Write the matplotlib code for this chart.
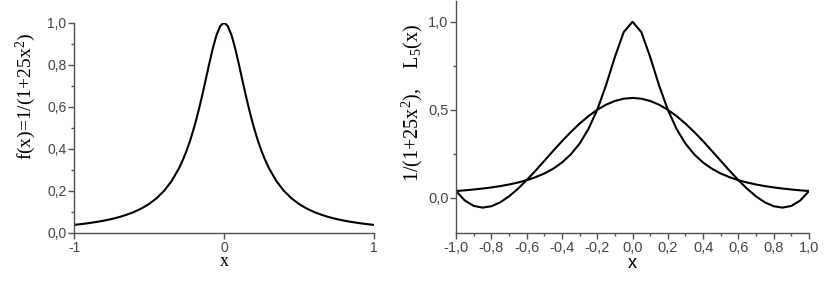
import matplotlib

matplotlib.use("Agg")
import matplotlib.pyplot as plt
from matplotlib.ticker import FixedLocator, FuncFormatter, MultipleLocator

# left panel: f(x) = 1/(1+25x^2)
left_x = [-1.0, -0.95, -0.9, -0.85, -0.8, -0.75, -0.7, -0.65, -0.6, -0.55, -0.5,
          -0.45, -0.4, -0.35, -0.3, -0.275, -0.25, -0.225, -0.2, -0.175, -0.15,
          -0.125, -0.1, -0.075, -0.05, -0.025, 0.0, 0.025, 0.05, 0.075, 0.1, 0.125,
          0.15, 0.175, 0.2, 0.225, 0.25, 0.275, 0.3, 0.35, 0.4, 0.45, 0.5, 0.55,
          0.6, 0.65, 0.7, 0.75, 0.8, 0.85, 0.9, 0.95, 1.0]
left_f = [0.0385, 0.0424, 0.0471, 0.0525, 0.0588, 0.0664, 0.0755, 0.0865, 0.100,
          0.1168, 0.1379, 0.1649, 0.200, 0.2462, 0.3077, 0.3459, 0.3902, 0.4414,
          0.500, 0.5664, 0.640, 0.7191, 0.800, 0.8767, 0.9412, 0.9846, 1.000,
          0.9846, 0.9412, 0.8767, 0.800, 0.7191, 0.640, 0.5664, 0.500, 0.4414,
          0.3902, 0.3459, 0.3077, 0.2462, 0.200, 0.1649, 0.1379, 0.1168, 0.100,
          0.0865, 0.0755, 0.0664, 0.0588, 0.0525, 0.0471, 0.0424, 0.0385]

# right panel: function and L5(x), sampled every 0.05
right_x = [-1.0, -0.95, -0.9, -0.85, -0.8, -0.75, -0.7, -0.65, -0.6, -0.55, -0.5,
           -0.45, -0.4, -0.35, -0.3, -0.25, -0.2, -0.15, -0.1, -0.05, 0.0, 0.05,
           0.1, 0.15, 0.2, 0.25, 0.3, 0.35, 0.4, 0.45, 0.5, 0.55, 0.6, 0.65, 0.7,
           0.75, 0.8, 0.85, 0.9, 0.95, 1.0]
right_f = [0.0385, 0.0424, 0.0471, 0.0525, 0.0588, 0.0664, 0.0755, 0.0865, 0.100,
           0.1168, 0.1379, 0.1649, 0.200, 0.2462, 0.3077, 0.3902, 0.500, 0.640,
           0.800, 0.9412, 1.000, 0.9412, 0.800, 0.640, 0.500, 0.3902, 0.3077,
           0.2462, 0.200, 0.1649, 0.1379, 0.1168, 0.100, 0.0865, 0.0755, 0.0664,
           0.0588, 0.0525, 0.0471, 0.0424, 0.0385]
right_l5 = [0.0385, -0.0157, -0.0460, -0.0558, -0.0481, -0.0260, 0.0078, 0.0506,
            0.100, 0.1537, 0.2097, 0.2661, 0.3212, 0.3733, 0.4213, 0.4638, 0.500,
            0.5290, 0.5501, 0.5630, 0.5673, 0.5630, 0.5501, 0.5290, 0.500, 0.4638,
            0.4213, 0.3733, 0.3212, 0.2661, 0.2097, 0.1537, 0.100, 0.0506, 0.0078,
            -0.0260, -0.0481, -0.0558, -0.0460, -0.0157, 0.0385]

left_xticks = [-1, 0, 1]
left_xticklabels = ["-1", "0", "1"]

plt.rcParams["mathtext.fontset"] = "custom"
plt.rcParams["mathtext.rm"] = "Liberation Serif"
plt.rcParams["mathtext.it"] = "Liberation Serif"

TICK_COLOR = "#454545"
SPINE_COLOR = "#505050"


def comma(v, _pos):
    if abs(v) < 1e-9:
        v = 0.0
    return f"{v:.1f}".replace(".", ",")


def style_axes(ax, size):
    for side in ("top", "right"):
        ax.spines[side].set_visible(False)
    for side in ("left", "bottom"):
        ax.spines[side].set_color(SPINE_COLOR)
        ax.spines[side].set_linewidth(1.0)
    ax.tick_params(which="major", direction="out", length=4, width=1,
                   color=SPINE_COLOR, labelsize=size, labelcolor=TICK_COLOR, pad=1.5)
    ax.tick_params(which="minor", direction="out", length=2.5, width=1,
                   color=SPINE_COLOR)
    for lbl in ax.get_xticklabels() + ax.get_yticklabels():
        lbl.set_fontfamily("Liberation Sans")


fig = plt.figure(figsize=(8.29, 2.83), dpi=100)

# left panel
ax1 = fig.add_axes([0.0893, 0.1767, 0.3618, 0.7431])
ax1.plot(left_x, left_f, color="black", lw=1.5)
ax1.set_xlim(-1, 1)
ax1.set_ylim(0, 1.0)
ax1.xaxis.set_major_locator(FixedLocator(left_xticks))
ax1.set_xticklabels(left_xticklabels)
ax1.yaxis.set_major_locator(MultipleLocator(0.2))
ax1.yaxis.set_minor_locator(MultipleLocator(0.1))
ax1.yaxis.set_major_formatter(FuncFormatter(comma))
style_axes(ax1, 10)
ax1.set_ylabel("f(x)=1/(1+25x$^2$)", family="Liberation Serif", fontsize=14, va="center")
ax1.yaxis.set_label_coords(-0.16, 0.65)
ax1.set_xlabel("x", family="Liberation Serif", fontsize=13, va="top")
ax1.xaxis.set_label_coords(0.5, -0.095)

# right panel
ax2 = fig.add_axes([0.5501, 0.1767, 0.4258, 0.821])
ax2.plot(right_x, right_f, color="black", lw=1.5)
ax2.plot(right_x, right_l5, color="black", lw=1.5)
ax2.set_xlim(-1, 1)
ax2.set_ylim(-0.2, 1.12)
ax2.xaxis.set_major_locator(MultipleLocator(0.2))
ax2.xaxis.set_minor_locator(MultipleLocator(0.1))
ax2.xaxis.set_major_formatter(FuncFormatter(comma))
ax2.yaxis.set_major_locator(MultipleLocator(0.5))
ax2.yaxis.set_minor_locator(FixedLocator([0.25, 0.75]))
ax2.yaxis.set_major_formatter(FuncFormatter(comma))
style_axes(ax2, 10.5)
ax2.set_ylabel("1/(1+25x$^2$),    L$_5$(x)", family="Liberation Serif", fontsize=14.5,
               va="center")
ax2.yaxis.set_label_coords(-0.125, 0.56)
ax2.set_xlabel("x", family="Liberation Sans", fontsize=13, va="top")
ax2.xaxis.set_label_coords(0.5, -0.095)

fig.savefig("out.png", dpi=100)
